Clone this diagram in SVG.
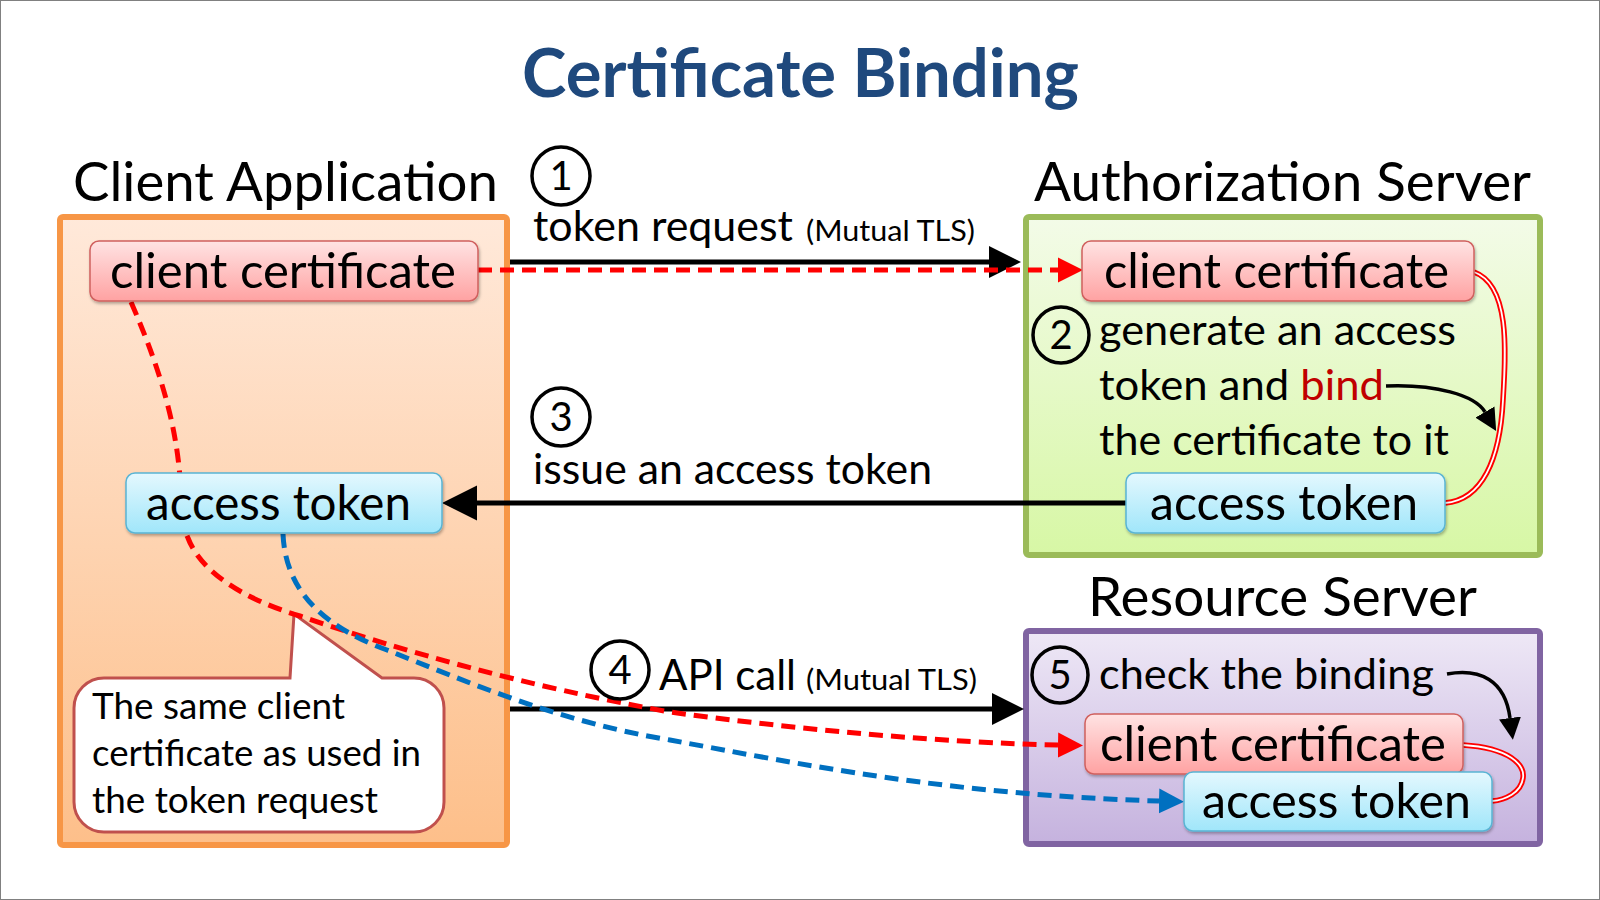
<svg xmlns="http://www.w3.org/2000/svg" width="1600" height="900" viewBox="0 0 1600 900">
<defs>
<style>
text{font-family:Lato,"Open Sans","Liberation Sans",sans-serif;fill:#000}
.title{font-size:66px;font-weight:bold;fill:#1F497D}
.group{font-size:54px}
.node{font-size:48px}
.step{font-size:42px}
.small{font-size:29px}
.num{font-size:40px}
.call{font-size:36px}
.circ{fill:none;stroke:#000;stroke-width:3.5}
.cert{fill:url(#gCert);stroke:#D0605E;stroke-width:1.5;filter:url(#sh)}
.tok{fill:url(#gTok);stroke:#5AB4D4;stroke-width:1.5;filter:url(#sh)}
.blk{fill:none;stroke:#000;stroke-width:5}
.rd{fill:none;stroke:#FF0000;stroke-width:5;stroke-dasharray:14 8}
.bd{fill:none;stroke:#0070C0;stroke-width:5;stroke-dasharray:14 8}
.cur{fill:none;stroke:#000;stroke-width:3.5}
.dbl{fill:none;stroke:#FF0000;stroke-width:5.5}
.dblw{fill:none;stroke:#fff;stroke-width:1.8}
</style>
<linearGradient id="gOrange" x1="0" y1="0" x2="0" y2="1"><stop offset="0" stop-color="#FFE9DA"/><stop offset="1" stop-color="#FDBF8A"/></linearGradient>
<linearGradient id="gGreen" x1="0" y1="0" x2="0" y2="1"><stop offset="0" stop-color="#F3FBE8"/><stop offset="1" stop-color="#D7F7A5"/></linearGradient>
<linearGradient id="gPurple" x1="0" y1="0" x2="0" y2="1"><stop offset="0" stop-color="#EEE8F6"/><stop offset="1" stop-color="#C5B2DE"/></linearGradient>
<linearGradient id="gCert" x1="0" y1="0" x2="0" y2="1"><stop offset="0" stop-color="#FFE3E3"/><stop offset="1" stop-color="#FFA2A2"/></linearGradient>
<linearGradient id="gTok" x1="0" y1="0" x2="0" y2="1"><stop offset="0" stop-color="#E4F8FE"/><stop offset="1" stop-color="#A0E6FA"/></linearGradient>
<filter id="sh" x="-10%" y="-20%" width="120%" height="150%"><feDropShadow dx="1" dy="2" stdDeviation="1.5" flood-color="#000" flood-opacity="0.3"/></filter>
<marker id="mBlk" markerUnits="userSpaceOnUse" viewBox="0 0 10 10" refX="0" refY="5" markerWidth="33" markerHeight="32" orient="auto"><path d="M0,0 L10,5 L0,10 Z" fill="#000"/></marker>
<marker id="mBlkL" markerUnits="userSpaceOnUse" viewBox="0 0 10 10" refX="0" refY="5" markerWidth="35" markerHeight="36" orient="auto"><path d="M0,0 L10,5 L0,10 Z" fill="#000"/></marker>
<marker id="mCur" markerUnits="userSpaceOnUse" viewBox="0 0 10 10" refX="0" refY="5" markerWidth="22" markerHeight="22" orient="auto"><path d="M0,0 L10,5 L0,10 Z" fill="#000"/></marker>
<marker id="mRed" markerUnits="userSpaceOnUse" viewBox="0 0 10 10" refX="0" refY="5" markerWidth="25" markerHeight="28" orient="auto"><path d="M0,0 L10,5 L0,10 Z" fill="#FF0000"/></marker>
<marker id="mBlue" markerUnits="userSpaceOnUse" viewBox="0 0 10 10" refX="0" refY="5" markerWidth="25" markerHeight="28" orient="auto"><path d="M0,0 L10,5 L0,10 Z" fill="#0070C0"/></marker>
</defs>
<rect x="0.5" y="0.5" width="1599" height="899" fill="#fff" stroke="#808080" stroke-width="1"/>
<text class="title" x="522" y="97" textLength="557" lengthAdjust="spacingAndGlyphs">Certificate Binding</text>

<g id="client-application">
<rect x="60" y="217" width="447" height="628" rx="3" fill="url(#gOrange)" stroke="#F79646" stroke-width="6"/>
<text class="group" x="73" y="201" textLength="425" lengthAdjust="spacingAndGlyphs">Client Application</text>
</g>
<g id="authorization-server">
<rect x="1026" y="217" width="514" height="338" rx="3" fill="url(#gGreen)" stroke="#9BBB59" stroke-width="6"/>
<text class="group" x="1034" y="201" textLength="497" lengthAdjust="spacingAndGlyphs">Authorization Server</text>
</g>
<g id="resource-server">
<rect x="1026" y="631" width="514" height="213" rx="3" fill="url(#gPurple)" stroke="#8064A2" stroke-width="6"/>
<text class="group" x="1088" y="616" textLength="389" lengthAdjust="spacingAndGlyphs">Resource Server</text>
</g>

<g id="callout">
<path d="M104,678 H290 L294,614 L382,678 H414 A30,30 0 0 1 444,708 V802 A30,30 0 0 1 414,832 H104 A30,30 0 0 1 74,802 V708 A30,30 0 0 1 104,678 Z" fill="#fff" stroke="#C0504D" stroke-width="3"/>
<text class="call" x="92" y="719" textLength="253" lengthAdjust="spacingAndGlyphs">The same client</text>
<text class="call" x="92" y="766" textLength="329" lengthAdjust="spacingAndGlyphs">certificate as used in</text>
<text class="call" x="92" y="813" textLength="286" lengthAdjust="spacingAndGlyphs">the token request</text>
</g>

<g id="connectors">
<path class="blk" d="M510,262 H989" marker-end="url(#mBlk)"/>
<path class="rd" d="M478,270 H1058" marker-end="url(#mRed)"/>
<path class="blk" d="M1126,503 H477" marker-end="url(#mBlkL)"/>
<path class="blk" d="M510,709 H992" marker-end="url(#mBlk)"/>
<path class="rd" d="M131,302 C165,380 180,440 181,500 C182,520 184,530 188,538 C200,570 240,598 300,616 C400,650 520,685 670,712 C800,730 950,743 1058,745" marker-end="url(#mRed)"/>
<path class="bd" d="M283,534 C285,580 310,622 387,650 C470,683 560,722 670,740 C800,764 950,795 1159,801" marker-end="url(#mBlue)"/>
<path class="cur" d="M1386,386 C1435,384 1475,395 1485,412" marker-end="url(#mCur)"/>
<path class="cur" d="M1447,674 C1480,668 1505,680 1510,718" marker-end="url(#mCur)"/>
<path class="dbl" d="M1474,272 C1510,285 1506,350 1503,400 C1500,460 1482,500 1445,503"/>
<path class="dblw" d="M1474,272 C1510,285 1506,350 1503,400 C1500,460 1482,500 1445,503"/>
<path class="dbl" d="M1463,745 C1510,748 1525,765 1523,778 C1521,793 1505,800 1492,801"/>
<path class="dblw" d="M1463,745 C1510,748 1525,765 1523,778 C1521,793 1505,800 1492,801"/>
</g>

<g id="client-cert-1">
<rect class="cert" x="90" y="241" width="388" height="60" rx="9"/>
<text class="node" x="110" y="288" textLength="346" lengthAdjust="spacingAndGlyphs">client certificate</text>
</g>
<g id="access-token-1">
<rect class="tok" x="126" y="473" width="316" height="60" rx="9"/>
<text class="node" x="146" y="520" textLength="265" lengthAdjust="spacingAndGlyphs">access token</text>
</g>
<g id="client-cert-2">
<rect class="cert" x="1082" y="241" width="392" height="60" rx="9"/>
<text class="node" x="1104" y="288" textLength="345" lengthAdjust="spacingAndGlyphs">client certificate</text>
</g>
<g id="access-token-2">
<rect class="tok" x="1126" y="473" width="319" height="60" rx="9"/>
<text class="node" x="1150" y="520" textLength="268" lengthAdjust="spacingAndGlyphs">access token</text>
</g>
<g id="client-cert-3">
<rect class="cert" x="1085" y="714" width="378" height="60" rx="9"/>
<text class="node" x="1100" y="761" textLength="346" lengthAdjust="spacingAndGlyphs">client certificate</text>
</g>
<g id="access-token-3">
<rect class="tok" x="1184" y="772" width="308" height="59" rx="9"/>
<text class="node" x="1202" y="818" textLength="269" lengthAdjust="spacingAndGlyphs">access token</text>
</g>

<g id="step1">
<circle class="circ" cx="561" cy="176" r="29"/>
<text class="num" x="561" y="190" text-anchor="middle">1</text>
<text class="step" x="533" y="241" textLength="260" lengthAdjust="spacingAndGlyphs">token request</text>
<text class="small" x="806" y="241" textLength="169" lengthAdjust="spacingAndGlyphs">(Mutual TLS)</text>
</g>
<g id="step2">
<circle class="circ" cx="1061" cy="335" r="28"/>
<text class="num" x="1061" y="349" text-anchor="middle">2</text>
<text class="step" x="1099" y="345" textLength="357" lengthAdjust="spacingAndGlyphs">generate an access</text>
<text class="step" x="1099" y="400" textLength="285" lengthAdjust="spacingAndGlyphs">token and <tspan fill="#C00000">bind</tspan></text>
<text class="step" x="1099" y="455" textLength="350" lengthAdjust="spacingAndGlyphs">the certificate to it</text>
</g>
<g id="step3">
<circle class="circ" cx="561" cy="417" r="29"/>
<text class="num" x="561" y="431" text-anchor="middle">3</text>
<text class="step" x="533" y="484" textLength="399" lengthAdjust="spacingAndGlyphs">issue an access token</text>
</g>
<g id="step4">
<circle class="circ" cx="620" cy="670" r="29"/>
<text class="num" x="620" y="684" text-anchor="middle">4</text>
<text class="step" x="659" y="690" textLength="137" lengthAdjust="spacingAndGlyphs">API call</text>
<text class="small" x="806" y="690" textLength="171" lengthAdjust="spacingAndGlyphs">(Mutual TLS)</text>
</g>
<g id="step5">
<circle class="circ" cx="1060" cy="675" r="28"/>
<text class="num" x="1060" y="689" text-anchor="middle">5</text>
<text class="step" x="1099" y="689" textLength="335" lengthAdjust="spacingAndGlyphs">check the binding</text>
</g>
</svg>
